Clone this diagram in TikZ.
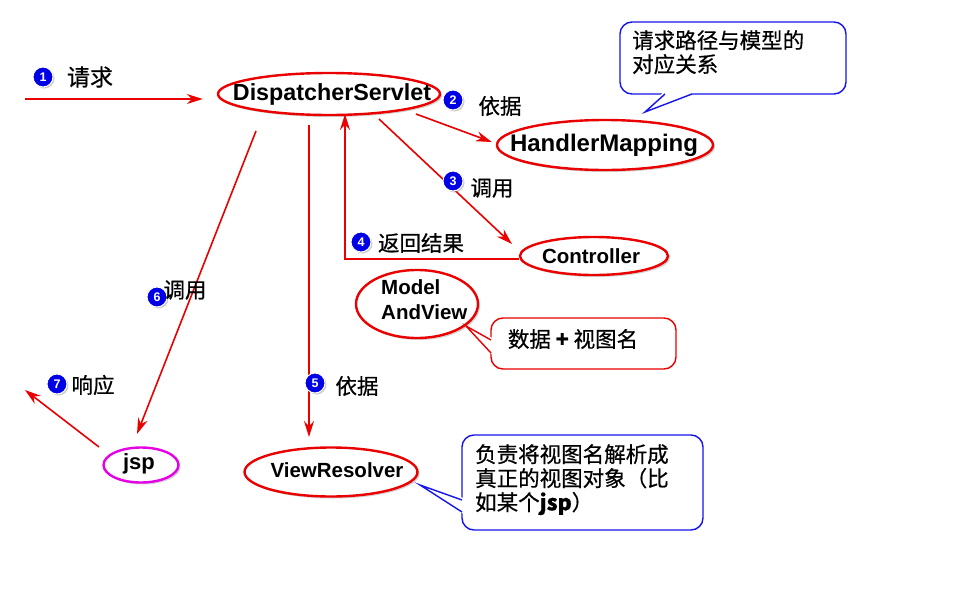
\documentclass[tikz,border=0pt]{standalone}
\usepackage{fontspec}
\setmainfont{Liberation Sans}
\newfontfamily\cjk[FakeBold=0.6]{Noto Sans CJK SC}
\usetikzlibrary{shapes.geometric,arrows.meta,calc,shadows}
\definecolor{ared}{RGB}{235,0,0}
\definecolor{cblue}{RGB}{20,20,235}
\definecolor{numblue}{RGB}{0,0,230}
\definecolor{jspmag}{RGB}{230,0,230}
\tikzset{
  conn/.style={draw=ared, line width=1.6pt, -{Stealth[length=16pt,width=10pt]}},
  oval/.style={ellipse, draw=ared, line width=2.4pt, fill=white, inner sep=0pt,
    drop shadow={shadow xshift=2pt, shadow yshift=-2pt, opacity=0.35, fill=gray}},
  otext/.style={inner sep=0pt, font=\bfseries\fontsize{20.5}{25}\selectfont, align=left},
  numc/.style={circle, fill=numblue, draw=white, line width=1pt, minimum size=20pt, inner sep=0pt,
    text=white, font=\bfseries\fontsize{12.5}{12.5}\selectfont,
    drop shadow={shadow xshift=1.5pt, shadow yshift=-1.5pt, opacity=0.4, fill=gray}},
  lab/.style={font=\cjk\fontsize{21.5}{23}\selectfont, inner sep=0pt},
  ctext/.style={font=\cjk\fontsize{21.5}{24}\selectfont, align=left, inner sep=0pt, anchor=north west},
}
\begin{document}
\begin{tikzpicture}[x=1pt,y=-1pt]
\useasboundingbox[fill=white] (0,0) rectangle (975,592);

% main nodes (ellipse + text)
\node[oval, minimum width=222pt, minimum height=42pt] (DS) at (329,94) {};
\node[otext, font=\bfseries\fontsize{23.3}{25}\selectfont] (DSt) at (332,94) {DispatcherServlet};
\node[oval, minimum width=216pt, minimum height=50pt] (HM) at (605,145) {};
\node[otext, font=\bfseries\fontsize{24}{26}\selectfont] (HMt) at (604,145) {HandlerMapping};
\node[oval, minimum width=148pt, minimum height=38pt] (C) at (594,256) {};
\node[otext] (Ct) at (591,256) {Controller};
\node[oval, minimum width=122pt, minimum height=68pt] (MV) at (417,304) {};
\node[otext, anchor=west] (MVt) at (381,300) {Model\\AndView};
\node[oval, minimum width=173pt, minimum height=49pt] (VR) at (331,472) {};
\node[otext] (VRt) at (337,470) {ViewResolver};
\node[oval, draw=jspmag, minimum width=75pt, minimum height=35pt] (J) at (141,465) {};
\node[otext, font=\bfseries\fontsize{22}{24}\selectfont] (Jt) at (139,464) {jsp};

\coordinate (in) at (25,99);
\coordinate (out) at (25,390);

% connectors
\draw[conn] (in) -- ($(DS.west)+(-14,5)$);
\draw[conn] ($(DS.center)+(87,20)$) -- ($(HM.west)+(-4,-3)$);
\draw[conn] ($(DS.center)+(50,25)$) -- ($(C.center)+(-82,-12)$);
\draw[conn] ($(C.west)+(0,3)$) -| ($(DS.center)+(16,20)$);
\draw[conn] ($(DS.center)+(-20,31)$) -- ($(VR.center)+(-22,-35)$);
\draw[conn] ($(DS.center)+(-73,37)$) -- ($(J.center)+(-4,-31)$);
\draw[conn] ($(J.center)+(-42,-18)$) -- (out);

% number markers and labels
\node[numc] (n1) at (43,77) {1};
\node[lab, font=\cjk\fontsize{23}{25}\selectfont] (l1) at (90,77) {请求};
\node[numc] (n2) at (453,100) {2};
\node[lab] (l2) at (500,106) {依据};
\node[numc] (n3) at (453,181) {3};
\node[lab] (l3) at (492,188) {调用};
\node[numc] (n4) at (361,242) {4};
\node[lab] (l4) at (421,243) {返回结果};
\node[numc] (n5) at (315,383) {5};
\node[lab] (l5) at (357,386) {依据};
\node[numc] (n6) at (157,297) {6};
\node[lab] (l6) at (185,290) {调用};
\node[numc] (n7) at (57,384) {7};
\node[lab] (l7) at (93,385) {响应};

% callout 1 (blue, top right)
\draw[cblue, line width=1.4pt, fill=white, rounded corners=12pt] (620,22) rectangle (846,94);
\fill[white] (663,92.5) -- (645,112) -- (694,92.5) -- cycle;
\coordinate (t1) at (645,112);
\draw[cblue, line width=1.4pt] (665,94) -- (t1) -- (692,94);
\node[ctext] (c1) at (632,30) {请求路径与模型的\\对应关系};

% callout 2 (red, middle)
\draw[ared, line width=1.4pt, fill=white, rounded corners=12pt] (491,318) rectangle (676,369);
\fill[white] (492.5,338) -- ($(MV.center)+(49,22)$) -- (492.5,355) -- cycle;
\draw[ared, line width=1.4pt] (491,340) -- ($(MV.center)+(49,22)$) -- (491,353);
\node[lab] (c2) at (573,339) {数据 \textbf{+} 视图名};

% callout 3 (blue, bottom)
\draw[cblue, line width=1.4pt, fill=white, rounded corners=12pt] (462,435) rectangle (703,530);
\fill[white] (463.5,498) -- ($(VR.center)+(89,13)$) -- (463.5,514) -- cycle;
\draw[cblue, line width=1.4pt] (462,500) -- ($(VR.center)+(89,13)$) -- (462,512);
\node[ctext] (c3) at (475,444) {负责将视图名解析成\\真正的视图对象（比\\如某个\textbf{jsp}）};
\end{tikzpicture}
\end{document}
